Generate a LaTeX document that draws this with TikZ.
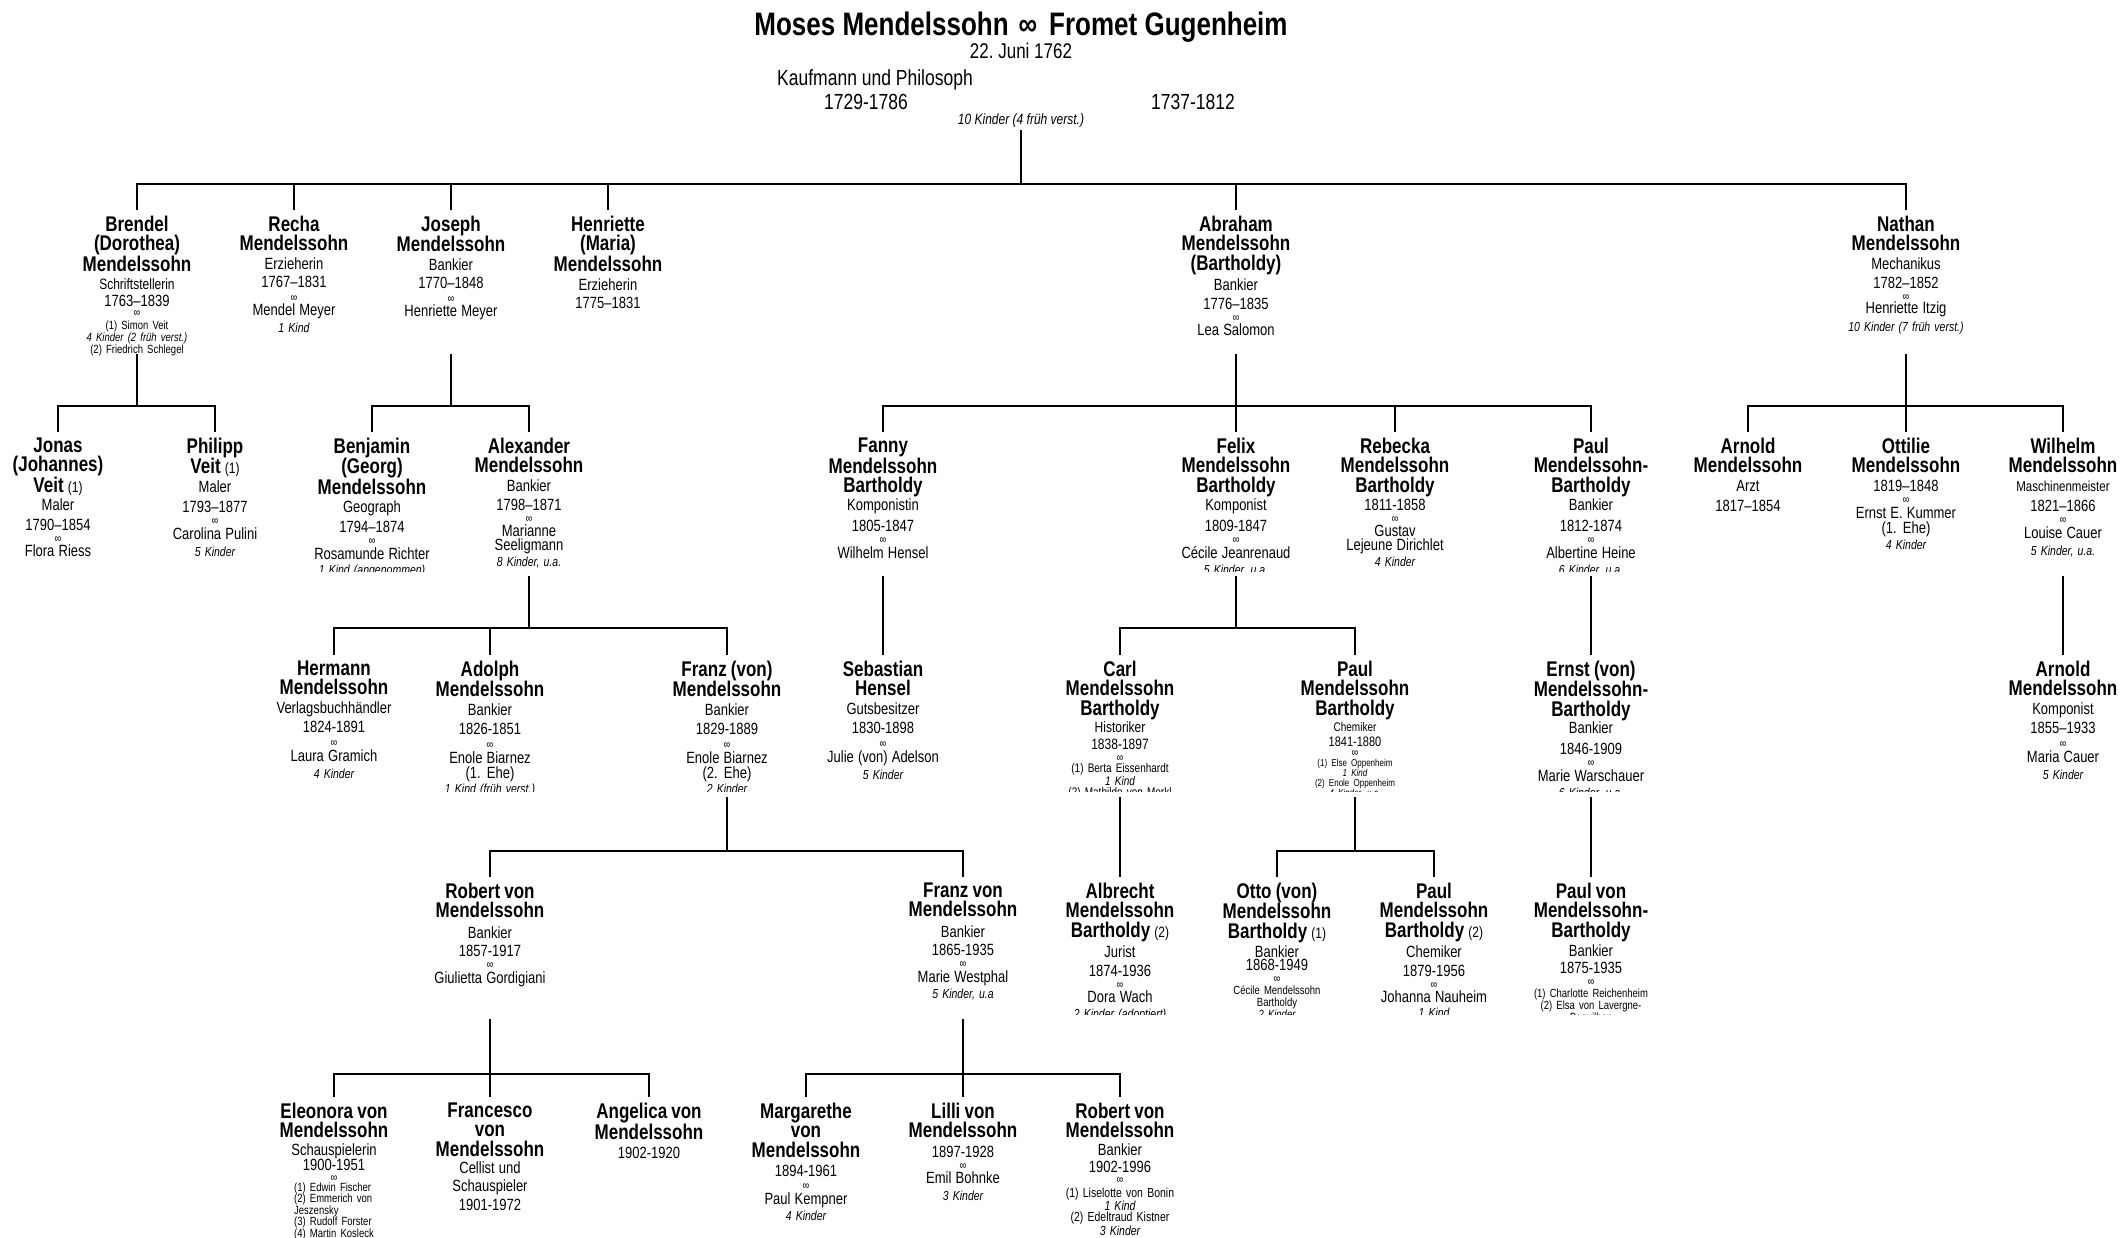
\documentclass[tikz,border=0pt]{standalone}
\usepackage{fontspec}
\setmainfont{Liberation Sans}[Scale=1.25, FakeStretch=0.8]
\setlength{\parindent}{0pt}
\setlength{\lineskiplimit}{-1000pt}
\newcommand\xLn[3]{{\fontsize{#1}{#2}\selectfont #3\par}}
\newcommand\xLi[3]{{\fontsize{#1}{#2}\selectfont\itshape #3\par}}
\newcommand\xNM[1]{{\fontsize{17}{19.5}\selectfont\bfseries #1\par}}
\newcommand\xIF[2][19]{\xLn{13}{#1}{#2}}
\newcommand\xMA[1][12]{\xLn{9.5}{#1}{∞}}
\newcommand\xSP[2][14]{\xLn{13}{#1}{#2}}
\newcommand\xKD[2][16]{\xLi{10.5}{#1}{#2}}
\newcommand\xnr[1]{{\mdseries\fontsize{12}{19.5}\selectfont #1}}
\begin{document}
\begin{tikzpicture}[x=1pt,y=-1pt,
  person/.style={anchor=north, inner xsep=0pt, inner ysep=5.5pt, text width=200pt, align=center},
  hdr/.style={inner sep=0pt},
  link/.style={line width=2.5pt, line join=miter}]
\fill[white] (0,0) rectangle (2123,1237);
\useasboundingbox (0,0) rectangle (2123,1237);

\coordinate (r1bar) at (0,184); \coordinate (r1b) at (0,354);
\coordinate (r2bar) at (0,406); \coordinate (r2b) at (0,576);
\coordinate (r3bar) at (0,628); \coordinate (r3b) at (0,797);
\coordinate (r4bar) at (0,851); \coordinate (r4b) at (0,1019);
\coordinate (r5bar) at (0,1074);

% ---------- header
\node[hdr] (title) at (1021,27) {\fontsize{26}{30}\selectfont\bfseries Moses Mendelssohn\hspace{10pt}∞\hspace{12pt}Fromet Gugenheim};
\node[hdr] (date) at (1021,51) {\fontsize{17}{20}\selectfont 22.\ Juni 1762};
\node[hdr] (beruf) at (875,80) {\fontsize{17.5}{20}\selectfont Kaufmann und Philosoph};
\node[hdr] (moses) at (866,102) {\fontsize{17.5}{20}\selectfont 1729-1786};
\node[hdr] (fromet) at (1193,102) {\fontsize{17.5}{20}\selectfont 1737-1812};
\begin{scope}
\clip (0,110) rectangle (2123,126);
\node[hdr] (kids0) at (1021,121) {\fontsize{12}{14}\selectfont\itshape 10 Kinder (4 früh verst.)};
\end{scope}
\coordinate (kids0b) at (1021,130);

% ---------- row 1
\node[person] (brendel) at (137,210) {\xNM{Brendel\\(Dorothea)\\Mendelssohn}\xLn{12}{18.5}{Schriftstellerin}\xIF[17]{1763–1839}\xMA[10]\xLn{9.5}{12.5}{(1) Simon Veit}\xLi{9.5}{11}{4 Kinder (2 früh verst.)}\xLn{9.5}{10.5}{(2) Friedrich Schlegel}};
\node[person] (recha) at (294,210) {\xNM{Recha\\Mendelssohn}\xIF{Erzieherin}\xIF[18]{1767–1831}\xMA[14]\xSP{Mendel Meyer}\xKD[17]{1 Kind}};
\node[person] (joseph) at (451,210) {\xNM{Joseph\\Mendelssohn}\xIF{Bankier}\xIF[18]{1770–1848}\xMA[14]\xSP{Henriette Meyer}};
\node[person] (henriette) at (608,210) {\xNM{Henriette\\(Maria)\\Mendelssohn}\xIF{Erzieherin}\xIF[18]{1775–1831}};
\node[person] (abraham) at (1236,210) {\xNM{Abraham\\Mendelssohn\\(Bartholdy)}\xIF[20]{Bankier}\xIF{1776–1835}\xMA\xSP{Lea Salomon}};
\node[person] (nathan) at (1906,210) {\xNM{Nathan\\Mendelssohn}\xIF{Mechanikus}\xIF{1782–1852}\xMA\xSP[13]{Henriette Itzig}\xKD[18]{10 Kinder (7 früh verst.)}};

% ---------- row 2
\begin{scope}
\clip (0,420) rectangle (2123,571);
\node[person] (jonas) at (58,432) {\xNM{Jonas\\(Johannes)\\Veit \xnr{(1)}}\xIF[18]{Maler}\xIF[20]{1790–1854}\xMA\xSP[14]{Flora Riess}};
\node[person] (philipp) at (215,432) {\xNM{Philipp\\Veit \xnr{(1)}}\xIF{Maler}\xIF[20]{1793–1877}\xMA\xSP[15]{Carolina Pulini}\xKD[17]{5 Kinder}};
\node[person] (benjamin) at (372,432) {\xNM{Benjamin\\(Georg)\\Mendelssohn}\xIF[18]{Geograph}\xIF[20]{1794–1874}\xMA\xSP[15]{Rosamunde Richter}\xKD[15]{1 Kind (angenommen)}};
\node[person] (alexander) at (529,432) {\xNM{Alexander\\Mendelssohn}\xIF{Bankier}\xIF{1798–1871}\xMA\xSP{Marianne\\Seeligmann}\xKD{8 Kinder, u.a.}};
\node[person] (fanny) at (883,432) {\xNM{Fanny\\Mendelssohn\\Bartholdy}\xIF[18]{Komponistin}\xIF[21]{1805-1847}\xMA\xSP[15]{Wilhelm Hensel}};
\node[person] (felix) at (1236,432) {\xNM{Felix\\Mendelssohn\\Bartholdy}\xIF[18]{Komponist}\xIF[21]{1809-1847}\xMA\xSP[15]{Cécile Jeanrenaud}\xKD{5 Kinder, u.a.}};
\node[person] (rebecka) at (1395,432) {\xNM{Rebecka\\Mendelssohn\\Bartholdy}\xIF[18]{1811-1858}\xMA\xSP{Gustav\\Lejeune Dirichlet}\xKD{4 Kinder}};
\node[person] (paul) at (1591,432) {\xNM{Paul\\Mendelssohn-\\Bartholdy}\xIF[18]{Bankier}\xIF[21]{1812-1874}\xMA\xSP[15]{Albertine Heine}\xKD{6 Kinder, u.a.}};
\node[person] (arnold) at (1748,432) {\xNM{Arnold\\Mendelssohn}\xIF{Arzt}\xIF[20]{1817–1854}};
\node[person] (ottilie) at (1906,432) {\xNM{Ottilie\\Mendelssohn}\xIF{1819–1848}\xMA\xSP[15]{Ernst E. Kummer\\(1. Ehe)}\xKD{4 Kinder}};
\node[person] (wilhelm) at (2063,432) {\xNM{Wilhelm\\Mendelssohn}\xLn{11.5}{19}{Maschinenmeister}\xIF[20]{1821–1866}\xMA\xSP[15]{Louise Cauer}\xKD[17]{5 Kinder, u.a.}};
\end{scope}

% ---------- row 3
\begin{scope}
\clip (0,640) rectangle (2123,791);
\node[person] (hermann) at (334,655) {\xNM{Hermann\\Mendelssohn}\xIF{Verlagsbuchhändler}\xIF[18.5]{1824-1891}\xMA[14]\xSP[15]{Laura Gramich}\xKD[17]{4 Kinder}};
\node[person] (adolph) at (490,655) {\xNM{Adolph\\Mendelssohn}\xIF{Bankier}\xIF[18.5]{1826-1851}\xMA[14]\xSP[15]{Enole Biarnez\\(1. Ehe)}\xKD[15]{1 Kind (früh verst.)}};
\node[person] (franz) at (727,655) {\xNM{Franz (von)\\Mendelssohn}\xIF{Bankier}\xIF[18.5]{1829-1889}\xMA[14]\xSP[15]{Enole Biarnez\\(2. Ehe)}\xKD[15]{2 Kinder}};
\node[person] (sebastian) at (883,655) {\xNM{Sebastian\\Hensel}\xIF{Gutsbesitzer}\xIF[18.5]{1830-1898}\xMA[14]\xSP[15]{Julie (von) Adelson}\xKD[17]{5 Kinder}};
\node[person] (carl) at (1120,655) {\xNM{Carl\\Mendelssohn\\Bartholdy}\xLn{12}{17}{Historiker}\xLn{12}{17}{1838-1897}\xMA\xLn{10}{11.5}{(1) Berta Eissenhardt}\xLi{10}{11.5}{1 Kind}\xLn{10}{11.5}{(2) Mathilde von Merkl}};
\node[person] (paulc) at (1355,655) {\xNM{Paul\\Mendelssohn\\Bartholdy}\xLn{10}{16.5}{Chemiker}\xLn{11}{14.5}{1841-1880}\xMA[10]\xLn{8}{10.5}{(1) Else Oppenheim}\xLi{8}{8.5}{1 Kind}\xLn{8}{10}{(2) Enole Oppenheim}\xLi{8}{10}{4 Kinder, u.a.}};
\node[person] (ernst) at (1591,655) {\xNM{Ernst (von)\\Mendelssohn-\\Bartholdy}\xIF[17]{Bankier}\xIF[21]{1846-1909}\xMA\xSP[15]{Marie Warschauer}\xKD[16]{6 Kinder, u.a.}};
\node[person] (arnoldw) at (2063,655) {\xNM{Arnold\\Mendelssohn}\xIF{Komponist}\xIF[18.5]{1855–1933}\xMA[14]\xSP[15]{Maria Cauer}\xKD[17]{5 Kinder}};
\end{scope}

% ---------- row 4
\begin{scope}
\clip (0,865) rectangle (2123,1014);
\node[person] (robert) at (490,877) {\xNM{Robert von\\Mendelssohn}\xIF[21]{Bankier}\xIF[18]{1857-1917}\xMA\xSP[15]{Giulietta Gordigiani}};
\node[person] (franzvm) at (963,877) {\xNM{Franz von\\Mendelssohn}\xIF[21]{Bankier}\xIF[18]{1865-1935}\xMA\xSP[15]{Marie Westphal}\xKD{5 Kinder, u.a}};
\node[person] (albrecht) at (1120,877) {\xNM{Albrecht\\Mendelssohn\\Bartholdy \xnr{(2)}}\xIF[20]{Jurist}\xIF{1874-1936}\xMA\xSP{Dora Wach}\xKD{2 Kinder (adoptiert)}};
\node[person] (otto) at (1277,877) {\xNM{Otto (von)\\Mendelssohn\\Bartholdy \xnr{(1)}}\xIF{Bankier}\xIF[13]{1868-1949}\xMA\xLn{9.5}{12}{Cécile Mendelssohn\\Bartholdy}\xLi{9.5}{12}{2 Kinder}};
\node[person] (paulchem) at (1434,877) {\xNM{Paul\\Mendelssohn\\Bartholdy \xnr{(2)}}\xIF[20]{Chemiker}\xIF{1879-1956}\xMA\xSP{Johanna Nauheim}\xKD[15]{1 Kind}};
\node[person] (paulvmb) at (1591,877) {\xNM{Paul von\\Mendelssohn-\\Bartholdy}\xIF{Bankier}\xIF[17]{1875-1935}\xMA\xLn{9.5}{12}{(1) Charlotte Reichenheim\\(2) Elsa von Lavergne-\\Peguilhen}};
\end{scope}

% ---------- row 5
\node[person] (eleonora) at (334,1097) {\xNM{Eleonora von\\Mendelssohn}\xIF[17.5]{Schauspielerin}\xIF[12.5]{1900-1951}\xMA[10.5]\xLn{9.5}{10}{\def\arraystretch{0.95}\begin{tabular}[t]{@{}l@{}}(1) Edwin Fischer\\(2) Emmerich von\\Jeszensky\\(3) Rudolf Forster\\(4) Martin Kosleck\end{tabular}}};
\node[person] (francesco) at (490,1097) {\xNM{Francesco\\von\\Mendelssohn}\xIF[17.5]{Cellist und}\xIF[17.5]{Schauspieler}\xIF[19]{1901-1972}};
\node[person] (angelica) at (649,1097) {\xNM{Angelica von\\Mendelssohn}\xIF{1902-1920}};
\node[person] (margarethe) at (806,1097) {\xNM{Margarethe\\von\\Mendelssohn}\xIF{1894-1961}\xMA[13]\xSP[15]{Paul Kempner}\xKD[16]{4 Kinder}};
\node[person] (lilli) at (963,1097) {\xNM{Lilli von\\Mendelssohn}\xIF[20]{1897-1928}\xMA\xSP{Emil Bohnke}\xKD[17]{3 Kinder}};
\node[person] (robertvm) at (1120,1097) {\xNM{Robert von\\Mendelssohn}\xIF[18]{Bankier}\xIF[16.5]{1902-1996}\xMA[11]\xLn{10.5}{14.5}{(1) Liselotte von Bonin}\xLi{10.5}{10.5}{1 Kind}\xLn{10.5}{11}{(2) Edeltraud Kistner}\xLi{10.5}{10.5}{3 Kinder}};

% ---------- connectors
\draw[link] (kids0b) -- (kids0b |- r1bar);
\draw[link] (brendel.north) -- (brendel.north |- r1bar) -- (nathan.north |- r1bar) -- (nathan.north);
\foreach \p in {recha,joseph,henriette,abraham} \draw[link] (\p.north) -- (\p.north |- r1bar);

% Brendel
\draw[link] (brendel.north |- r1b) -- (brendel.north |- r2bar);
\draw[link] (jonas.north) -- (jonas.north |- r2bar) -- (philipp.north |- r2bar) -- (philipp.north);
% Joseph
\draw[link] (joseph.north |- r1b) -- (joseph.north |- r2bar);
\draw[link] (benjamin.north) -- (benjamin.north |- r2bar) -- (alexander.north |- r2bar) -- (alexander.north);
% Abraham
\draw[link] (abraham.north |- r1b) -- (abraham.north |- r2bar);
\draw[link] (fanny.north) -- (fanny.north |- r2bar) -- (paul.north |- r2bar) -- (paul.north);
\foreach \p in {felix,rebecka} \draw[link] (\p.north) -- (\p.north |- r2bar);
% Nathan
\draw[link] (nathan.north |- r1b) -- (nathan.north |- r2bar);
\draw[link] (arnold.north) -- (arnold.north |- r2bar) -- (wilhelm.north |- r2bar) -- (wilhelm.north);
\draw[link] (ottilie.north) -- (ottilie.north |- r2bar);

% Alexander
\draw[link] (alexander.north |- r2b) -- (alexander.north |- r3bar);
\draw[link] (hermann.north) -- (hermann.north |- r3bar) -- (franz.north |- r3bar) -- (franz.north);
\draw[link] (adolph.north) -- (adolph.north |- r3bar);
% Fanny
\draw[link] (fanny.north |- r2b) -- (sebastian.north);
% Felix
\draw[link] (felix.north |- r2b) -- (felix.north |- r3bar);
\draw[link] (carl.north) -- (carl.north |- r3bar) -- (paulc.north |- r3bar) -- (paulc.north);
% Paul
\draw[link] (paul.north |- r2b) -- (ernst.north);
% Wilhelm
\draw[link] (wilhelm.north |- r2b) -- (arnoldw.north);

% Franz
\draw[link] (franz.north |- r3b) -- (franz.north |- r4bar);
\draw[link] (robert.north) -- (robert.north |- r4bar) -- (franzvm.north |- r4bar) -- (franzvm.north);
% Carl
\draw[link] (carl.north |- r3b) -- (albrecht.north);
% Paul (Chemiker)
\draw[link] (paulc.north |- r3b) -- (paulc.north |- r4bar);
\draw[link] (otto.north) -- (otto.north |- r4bar) -- (paulchem.north |- r4bar) -- (paulchem.north);
% Ernst
\draw[link] (ernst.north |- r3b) -- (paulvmb.north);

% Robert
\draw[link] (robert.north |- r4b) -- (robert.north |- r5bar);
\draw[link] (eleonora.north) -- (eleonora.north |- r5bar) -- (angelica.north |- r5bar) -- (angelica.north);
\draw[link] (francesco.north) -- (francesco.north |- r5bar);
% Franz von
\draw[link] (franzvm.north |- r4b) -- (franzvm.north |- r5bar);
\draw[link] (margarethe.north) -- (margarethe.north |- r5bar) -- (robertvm.north |- r5bar) -- (robertvm.north);
\draw[link] (lilli.north) -- (lilli.north |- r5bar);
\end{tikzpicture}
\end{document}
